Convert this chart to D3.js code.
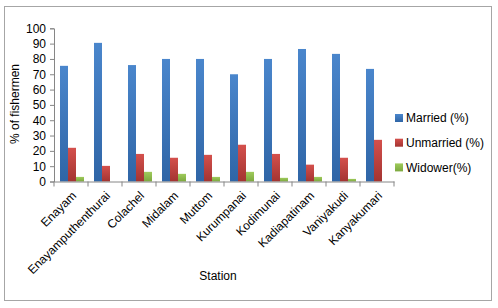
<!DOCTYPE html>
<html>
<head>
<meta charset="utf-8">
<script src="https://cdn.jsdelivr.net/npm/d3@7"></script>
<style>
  body { margin: 0; background: #fff; }
  text { font-family: "Liberation Sans", Arial, sans-serif; }
</style>
</head>
<body>
<svg class="chart" width="498" height="308"></svg>
<script>
// data
var stations = ["Enayam", "Enayamputhenthurai", "Colachel", "Midalam", "Muttom",
                "Kurumpanai", "Kodimunai", "Kadiapatinam", "Vaniyakudi", "Kanyakumari"];
var married   = [75.5, 90.5, 76, 80, 80, 70, 80, 86.5, 83.3, 73.5];
var unmarried = [22, 10.2, 18, 15.5, 17.4, 24, 18, 11, 15.5, 27.2];
var widower   = [3, 0, 6.3, 5, 3, 6.3, 2.4, 3, 1.7, 0];
var seriesNames = ["Married (%)", "Unmarried (%)", "Widower(%)"];
var yTicks = [0, 10, 20, 30, 40, 50, 60, 70, 80, 90, 100];

var svg = d3.select(".chart");
var colors = [["#4A86CC", "#2F65A6"], ["#D4504C", "#A33431"], ["#9FCB5C", "#7CA83E"]];

// frame
svg.append("rect").attr("x", 4.5).attr("y", 6.5).attr("width", 487).attr("height", 294)
   .attr("fill", "#fff").attr("stroke", "#a6a6a6");

var defs = svg.append("defs");
colors.forEach(function(c, i) {
    var g = defs.append("linearGradient").attr("id", "g" + i)
        .attr("x1", 0).attr("y1", 0).attr("x2", 0).attr("y2", 1);
    g.append("stop").attr("offset", "0%").attr("stop-color", c[0]);
    g.append("stop").attr("offset", "100%").attr("stop-color", c[1]);
});

var x = d3.scaleBand().domain(stations).range([54, 394]);
var y = d3.scaleLinear().domain([0, 100]).range([181.5, 28.3]);
var inner = d3.scaleBand().domain([0, 1, 2]).range([6, 30]);

var data = [married, unmarried, widower];

// bars
data.forEach(function(vals, s) {
    svg.append("g").selectAll("rect")
        .data(vals)
        .enter().append("rect")
        .attr("x", function(d, i) { return x(stations[i]) + inner(s); })
        .attr("y", function(d) { return y(d); })
        .attr("width", inner.bandwidth())
        .attr("height", function(d) { return y(0) - y(d); })
        .attr("fill", "url(#g" + s + ")");
});

// y axis
var yAxis = svg.append("g").attr("transform", "translate(54,0)")
    .call(d3.axisLeft(y).tickValues(yTicks).tickSize(4).tickPadding(4));
yAxis.selectAll("text").style("font-size", "12px").attr("fill", "#000");

// x axis
var xAxis = svg.append("g").attr("transform", "translate(0," + y(0) + ")")
    .call(d3.axisBottom(x).tickSize(0).tickFormat(""));
xAxis.selectAll(".tick").remove();
svg.append("g").selectAll("line")
    .data(d3.range(stations.length + 1))
    .enter().append("line")
    .attr("x1", function(i) { return 54 + i * x.step(); })
    .attr("x2", function(i) { return 54 + i * x.step(); })
    .attr("y1", y(0)).attr("y2", y(0) + 5)
    .attr("stroke", "#868686");
svg.selectAll(".domain").attr("stroke", "#868686");
yAxis.selectAll("line").attr("stroke", "#868686");

svg.append("g").selectAll("text")
    .data(stations)
    .enter().append("text")
    .attr("transform", function(d) {
        return "translate(" + (x(d) + x.bandwidth() / 2 + 3) + "," + (y(0) + 12) + ") rotate(-45)";
    })
    .attr("text-anchor", "end")
    .attr("dy", "0.35em")
    .style("font-size", "12px")
    .text(function(d) { return d; });

// axis titles
svg.append("text").attr("x", 218).attr("y", 280).attr("text-anchor", "middle")
    .style("font-size", "12px").text("Station");
svg.append("text").attr("transform", "translate(19,104) rotate(-90)")
    .attr("text-anchor", "middle").style("font-size", "12px").text("% of fishermen");

// legend
var leg = svg.append("g").selectAll("g")
    .data(seriesNames)
    .enter().append("g")
    .attr("transform", function(d, i) { return "translate(395," + (118 + i * 24.7) + ")"; });
leg.append("rect").attr("x", 0).attr("y", -4).attr("width", 8).attr("height", 8)
    .attr("fill", function(d, i) { return "url(#g" + i + ")"; });
leg.append("text").attr("x", 11).attr("dy", "0.35em").style("font-size", "12px")
    .text(function(d) { return d; });
</script>
</body>
</html>
